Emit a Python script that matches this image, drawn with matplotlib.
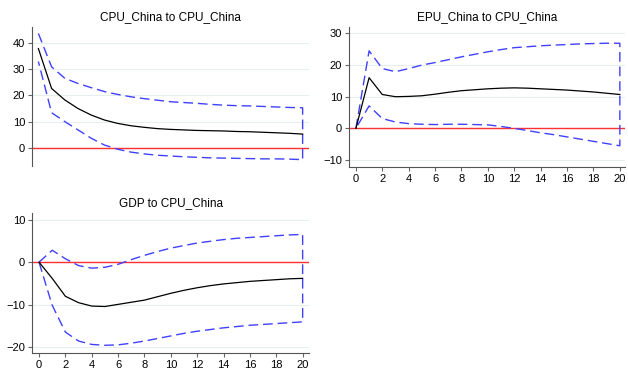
import numpy as np
import matplotlib
matplotlib.use("Agg")
import matplotlib.pyplot as plt

plt.rcParams['font.family'] = ['Liberation Sans', 'DejaVu Sans']

steps = list(range(21))

# CPU_China to CPU_China
cpu_irf = [38, 22.7, 18.3, 15.0, 12.5, 10.6, 9.3, 8.4, 7.8, 7.3, 7.0, 6.8, 6.6, 6.5, 6.4, 6.2, 6.1, 5.9, 5.7, 5.5, 5.2]
cpu_upper = [43.8, 31, 26.6, 24.6, 23, 21.5, 20.4, 19.5, 18.8, 18.2, 17.6, 17.3, 17.0, 16.6, 16.3, 16.1, 16.0, 15.8, 15.6, 15.4, 15.3]
cpu_lower = [33, 13.4, 10, 6.8, 3.6, 1.0, -0.6, -1.7, -2.4, -2.9, -3.2, -3.5, -3.7, -3.9, -4.0, -4.1, -4.2, -4.3, -4.3, -4.4, -4.6]

# EPU_China to CPU_China
epu_irf = [0, 16.0, 10.7, 10.0, 10.1, 10.3, 10.8, 11.4, 11.9, 12.2, 12.5, 12.7, 12.8, 12.7, 12.5, 12.3, 12.1, 11.8, 11.5, 11.1, 10.7]
epu_upper = [0, 24.5, 18.9, 17.9, 18.9, 20, 20.8, 21.7, 22.6, 23.4, 24.2, 24.9, 25.5, 25.8, 26.1, 26.3, 26.5, 26.7, 26.8, 26.9, 26.9]
epu_lower = [0, 7.1, 3.1, 2.0, 1.5, 1.3, 1.2, 1.3, 1.3, 1.2, 1.1, 0.6, 0.0, -0.7, -1.4, -2.0, -2.7, -3.4, -4.1, -4.8, -5.5]

# GDP to CPU_China
gdp_irf = [0, -3.8, -8.0, -9.5, -10.3, -10.4, -9.9, -9.4, -8.9, -8.1, -7.3, -6.6, -6.0, -5.5, -5.1, -4.8, -4.5, -4.3, -4.1, -3.9, -3.8]
gdp_upper = [0, 2.8, 0.8, -0.8, -1.4, -1.2, -0.5, 0.6, 1.6, 2.5, 3.3, 3.9, 4.5, 4.9, 5.3, 5.6, 5.8, 6.0, 6.2, 6.4, 6.5]
gdp_lower = [0, -10.1, -16.4, -18.5, -19.3, -19.5, -19.4, -19.0, -18.5, -17.9, -17.3, -16.7, -16.2, -15.8, -15.4, -15.1, -14.8, -14.6, -14.4, -14.2, -14.0]

panels = [
    ("CPU_China to CPU_China", cpu_irf, cpu_upper, cpu_lower,
     [0.051, 0.554, 0.441, 0.373], (-0.48, 20.48), (-7.0, 46.2), [0, 10, 20, 30, 40], False),
    ("EPU_China to CPU_China", epu_irf, epu_upper, epu_lower,
     [0.556, 0.552, 0.439, 0.376], (-0.51, 20.38), (-12.1, 32.1), [-10, 0, 10, 20, 30], True),
    ("GDP to CPU_China", gdp_irf, gdp_upper, gdp_lower,
     [0.051, 0.050, 0.441, 0.377], (-0.53, 20.48), (-21.4, 11.5), [-20, -10, 0, 10], True),
]

fig = plt.figure(figsize=(6.28, 3.72), dpi=100)

for title, irf, upper, lower, pos, xl, yl, yt, show_x in panels:
    ax = fig.add_axes(pos)
    ax.set_xlim(*xl)
    ax.set_ylim(*yl)
    for t in yt:
        ax.axhline(t, color='#e6eef0', lw=0.8, zorder=0)
    ax.axhline(0, color='#ff3030', lw=1.0, zorder=1)

    # confidence band outline: upper forward, then lower backward
    bx = steps + steps[::-1]
    by = list(upper) + list(lower)[::-1]
    ln, = ax.plot(bx, by, color='#4040ff', lw=1.0, zorder=2)
    ln.set_dashes([7, 3.5])
    ax.plot(steps, irf, color='black', lw=0.9, zorder=3)

    ax.set_title(title, fontsize=8.5, pad=5)
    ax.set_yticks(yt)
    ax.tick_params(axis='both', labelsize=8, length=3, color='#666666', width=0.8, pad=2)
    for s in ['top', 'right']:
        ax.spines[s].set_visible(False)
    ax.spines['left'].set_color('#555555')
    ax.spines['bottom'].set_color('#555555')
    if show_x:
        ax.set_xticks(range(0, 21, 2))
    else:
        ax.spines['bottom'].set_visible(False)
        ax.set_xticks([])

fig.savefig('out.png', dpi=100)
